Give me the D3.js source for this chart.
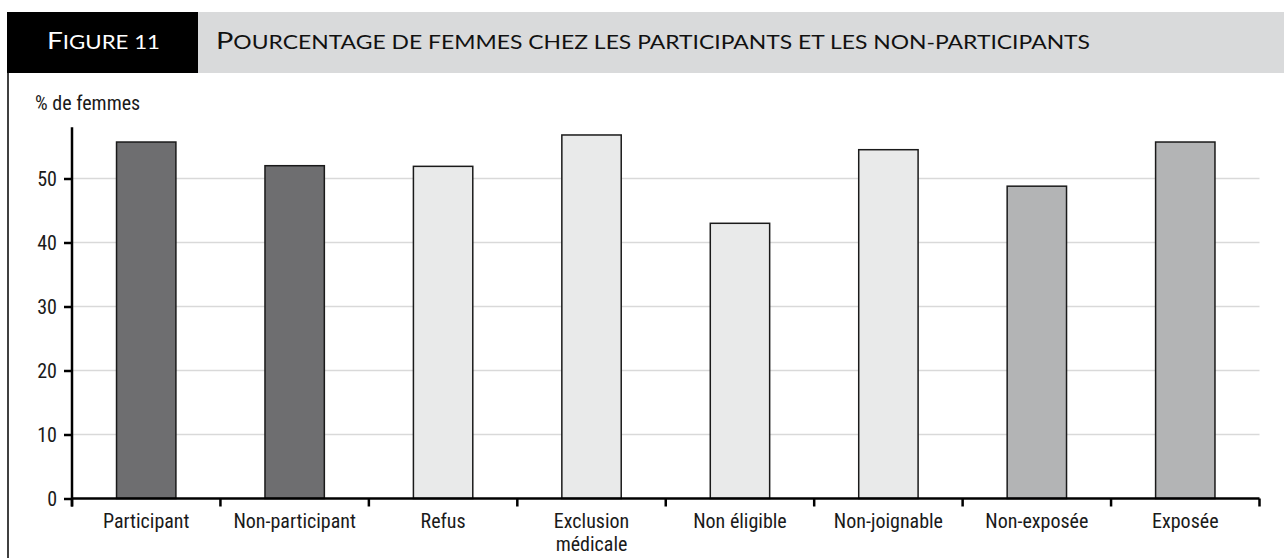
<!DOCTYPE html>
<html><head><meta charset="utf-8">
<script src="https://cdn.jsdelivr.net/npm/d3@7"></script>
<style>
html,body{margin:0;padding:0;background:#fff;}
svg{display:block;}
.lab{font-family:"Liberation Sans Narrow","Roboto Condensed","Open Sans",sans-serif;fill:#1a1a1a;}
</style></head>
<body>
<svg id="chart" width="1284" height="558"></svg>
<script>
const categories = ["Participant","Non-participant","Refus","Exclusion\nmédicale","Non éligible","Non-joignable","Non-exposée","Exposée"];
const values = [55.7, 52.0, 51.9, 56.8, 43.0, 54.5, 48.8, 55.7];
const groups = ["dark","dark","light","light","light","light","mid","mid"];
const yTicks = [0,10,20,30,40,50];
const figLabel = "Figure 11";
const title = "Pourcentage de femmes chez les participants et les non-participants";
const yLabel = "% de femmes";

const colors = {dark:"#6e6e70", light:"#e9eaea", mid:"#b3b4b5"};

const svg = d3.select("#chart");

function smallCaps(sel, str, big, small){
  str.split(" ").forEach((w,i)=>{
    if(i>0) sel.append("tspan").style("font-size",small+"px").text(" ");
    if(i===0){
      sel.append("tspan").style("font-size",big+"px").text(w[0].toUpperCase());
      sel.append("tspan").style("font-size",small+"px").text(w.slice(1).toUpperCase());
    } else {
      sel.append("tspan").style("font-size",small+"px").text(w.toUpperCase());
    }
  });
}

// header
svg.append("rect").attr("x",7).attr("y",12).attr("width",1277).attr("height",61).attr("fill","#d9dadb");
svg.append("rect").attr("x",7).attr("y",12).attr("width",191).attr("height",61).attr("fill","#000");
const ft = svg.append("text").attr("x",47).attr("y",49).attr("fill","#fff")
  .style("font-family","Lato, 'Open Sans', sans-serif")
  .attr("textLength",113).attr("lengthAdjust","spacingAndGlyphs");
smallCaps(ft, figLabel, 24, 19);
const tt = svg.append("text").attr("x",216).attr("y",49).attr("fill","#111")
  .style("font-family","Lato, 'Open Sans', sans-serif")
  .attr("textLength",874).attr("lengthAdjust","spacingAndGlyphs");
smallCaps(tt, title, 24, 19);
// left border
svg.append("line").attr("x1",8).attr("x2",8).attr("y1",73).attr("y2",558).attr("stroke","#000").attr("stroke-width",1.5);

const x0 = 72, x1 = 1259.5, yBase = 498.5;
const x = d3.scaleBand().domain(categories).range([x0,x1]).paddingInner(0.6).paddingOuter(0.3);
const y = d3.scaleLinear().domain([0,58]).range([yBase, yBase - 58*6.4]);

// gridlines
svg.append("g").selectAll("line").data(yTicks.filter(d=>d>0)).join("line")
  .attr("x1",x0).attr("x2",x1).attr("y1",d=>y(d)).attr("y2",d=>y(d))
  .attr("stroke","#d9d9d9").attr("stroke-width",1.5);

// bars
svg.append("g").selectAll("rect").data(values).join("rect")
  .attr("x",(d,i)=>x(categories[i]))
  .attr("y",d=>y(d))
  .attr("width",x.bandwidth())
  .attr("height",d=>yBase-y(d))
  .attr("fill",(d,i)=>colors[groups[i]])
  .attr("stroke","#1a1a1a").attr("stroke-width",1.5);

// y axis
const yAxis = svg.append("g").attr("transform",`translate(${x0},0)`)
  .call(d3.axisLeft(y).tickValues(yTicks).tickSize(8).tickPadding(7));
yAxis.select(".domain").remove();
yAxis.selectAll(".tick line").attr("stroke","#000").attr("stroke-width",2.5);
yAxis.selectAll(".tick text").attr("class","lab").style("font-size","20px").attr("dy","0.34em");
svg.append("line").attr("x1",x0).attr("x2",x0).attr("y1",y(58)).attr("y2",yBase+8).attr("stroke","#000").attr("stroke-width",2.5);

// x axis
svg.append("line").attr("x1",x0).attr("x2",x1).attr("y1",yBase).attr("y2",yBase).attr("stroke","#000").attr("stroke-width",2.5);
const bounds = categories.map(c=>x(c) - x.step()*x.paddingInner()/2).concat([x1]);
bounds[0] = x0;
svg.append("g").selectAll("line").data(bounds).join("line")
  .attr("x1",d=>d).attr("x2",d=>d).attr("y1",yBase).attr("y2",yBase+8)
  .attr("stroke","#000").attr("stroke-width",2.5);

// category labels (one text element per line)
const lineData = [];
categories.forEach(c=>c.split("\n").forEach((l,i)=>lineData.push({c, l, i})));
svg.append("g").selectAll("text").data(lineData).join("text")
  .attr("class","lab").attr("text-anchor","middle").style("font-size","20px")
  .attr("x",d=>x(d.c)+x.bandwidth()/2).attr("y",d=>528 + d.i*23)
  .text(d=>d.l);

// y label
svg.append("text").attr("class","lab").attr("x",35).attr("y",110).style("font-size","20px").text(yLabel);
</script>
</body></html>
